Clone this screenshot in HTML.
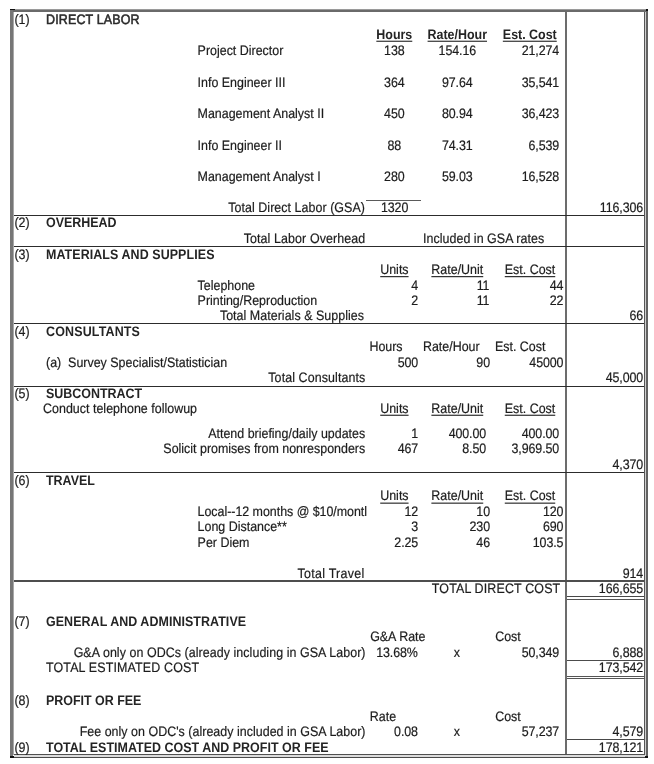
<!DOCTYPE html>
<html><head><meta charset="utf-8"><title>Cost Estimate</title>
<style>
html,body{margin:0;padding:0;background:#fff;}
body{width:654px;height:764px;position:relative;overflow:hidden;font-family:"Liberation Sans",sans-serif;font-size:12.45px;color:#1c1c1c;text-rendering:geometricPrecision;}
.tx{position:absolute;left:0;top:0;width:654px;height:764px;will-change:transform;transform:scaleY(1.1);transform-origin:0 0;}
.t{position:absolute;white-space:nowrap;-webkit-text-stroke:0.18px #1c1c1c;line-height:14px;height:14px;}
.b{font-weight:bold;color:#242424;-webkit-text-stroke:0;}
.s{-webkit-text-stroke:0.5px #2a2a2a;color:#2a2a2a;}
.u{text-decoration:underline;text-underline-offset:1.5px;text-decoration-thickness:1.2px;}
.l{position:absolute;}
</style></head><body>

<div class="l" style="left:10.3px;top:9.3px;width:637.1px;height:1.1px;background:#9a9a9a"></div>
<div class="l" style="left:10.3px;top:10.3px;width:637.1px;height:2.05px;background:#6a6a6a"></div>
<div class="l" style="left:10.3px;top:9.4px;width:2.4px;height:748.3px;background:#767676"></div>
<div class="l" style="left:12.7px;top:12.3px;width:1px;height:743px;background:#a8a8a8"></div>
<div class="l" style="left:644.1px;top:12.3px;width:1px;height:742.8px;background:#555"></div>
<div class="l" style="left:645.1px;top:12.3px;width:0.8px;height:744.2px;background:#cfcfcf"></div>
<div class="l" style="left:645.9px;top:9.4px;width:1.8px;height:748.3px;background:#626262"></div>
<div class="l" style="left:13.7px;top:754px;width:631.4px;height:1.4px;background:#505050"></div>
<div class="l" style="left:13.7px;top:755.4px;width:632.2px;height:1.2px;background:#dcdcdc"></div>
<div class="l" style="left:10.3px;top:756.6px;width:637.5px;height:1.2px;background:#4a4a4a"></div>
<div class="l" style="left:9.6px;top:8.5px;width:5px;height:1.7px;background:#111"></div>
<div class="l" style="left:645.9px;top:8.8px;width:2.1px;height:1.9px;background:#111"></div>
<div class="l" style="left:10px;top:756.2px;width:3.8px;height:1.6px;background:#111"></div>
<div class="l" style="left:644.5px;top:756.2px;width:3.7px;height:1.8px;background:#111"></div>
<div class="l" style="left:565.15px;top:12.3px;width:2px;height:741.7px;background:#6c6c6c"></div>
<div class="l" style="left:13.7px;top:214.65px;width:630.4px;height:1.35px;background:#2c2c2c"></div>
<div class="l" style="left:13.7px;top:245.7px;width:630.4px;height:1.4px;background:#2c2c2c"></div>
<div class="l" style="left:13.7px;top:322.6px;width:630.4px;height:1.4px;background:#2c2c2c"></div>
<div class="l" style="left:13.7px;top:386px;width:630.4px;height:1.4px;background:#2c2c2c"></div>
<div class="l" style="left:13.7px;top:471.7px;width:630.4px;height:1.4px;background:#2c2c2c"></div>
<div class="l" style="left:13.7px;top:580.3px;width:630.4px;height:1.6px;background:#4e4e4e"></div>
<div class="l" style="left:366.1px;top:199.5px;width:55.2px;height:1.4px;background:#5a5a5a"></div>
<div class="l" style="left:566.5px;top:595.8px;width:77.6px;height:1.3px;background:#484848"></div>
<div class="l" style="left:566.5px;top:598.6px;width:77.6px;height:1.1px;background:#555"></div>
<div class="l" style="left:566.5px;top:660.1px;width:77.6px;height:1.3px;background:#4c4c4c"></div>
<div class="l" style="left:566.5px;top:675.6px;width:77.6px;height:1.3px;background:#555"></div>
<div class="l" style="left:566.5px;top:677.5px;width:77.6px;height:1.3px;background:#555"></div>
<div class="l" style="left:566.5px;top:739px;width:77.6px;height:1.2px;background:#484848"></div>
<div class="tx">
<div class="t" style="left:14.4px;top:11.00px">(1)</div>
<div class="t s" style="left:46px;top:11.00px;letter-spacing:0.17px">DIRECT LABOR</div>
<div class="t b u" style="left:394.3px;top:24.00px;transform:translateX(-50%)">Hours</div>
<div class="t b u" style="left:457.3px;top:24.00px;transform:translateX(-50%)">Rate/Hour</div>
<div class="t b u" style="left:529.8px;top:24.00px;transform:translateX(-50%)">Est. Cost</div>
<div class="t" style="left:197.6px;top:39.00px">Project Director</div>
<div class="t" style="left:394.3px;top:39.00px;transform:translateX(-50%);letter-spacing:-0.1px">138</div>
<div class="t" style="left:457.3px;top:39.00px;transform:translateX(-50%);letter-spacing:-0.1px">154.16</div>
<div class="t" style="right:94.85px;top:39.00px;letter-spacing:-0.1px">21,274</div>
<div class="t" style="left:197.6px;top:68.00px">Info Engineer III</div>
<div class="t" style="left:394.3px;top:68.00px;transform:translateX(-50%);letter-spacing:-0.1px">364</div>
<div class="t" style="left:457.3px;top:68.00px;transform:translateX(-50%);letter-spacing:-0.1px">97.64</div>
<div class="t" style="right:94.85px;top:68.00px;letter-spacing:-0.1px">35,541</div>
<div class="t" style="left:197.6px;top:96.00px">Management Analyst II</div>
<div class="t" style="left:394.3px;top:96.00px;transform:translateX(-50%);letter-spacing:-0.1px">450</div>
<div class="t" style="left:457.3px;top:96.00px;transform:translateX(-50%);letter-spacing:-0.1px">80.94</div>
<div class="t" style="right:94.85px;top:96.00px;letter-spacing:-0.1px">36,423</div>
<div class="t" style="left:197.6px;top:125.00px">Info Engineer II</div>
<div class="t" style="left:394.3px;top:125.00px;transform:translateX(-50%);letter-spacing:-0.1px">88</div>
<div class="t" style="left:457.3px;top:125.00px;transform:translateX(-50%);letter-spacing:-0.1px">74.31</div>
<div class="t" style="right:94.85px;top:125.00px;letter-spacing:-0.1px">6,539</div>
<div class="t" style="right:289.05px;top:182.00px;letter-spacing:0.05px">Total Direct Labor (GSA)</div>
<div class="t" style="left:394.6px;top:182.00px;transform:translateX(-50%);letter-spacing:-0.1px">1320</div>
<div class="t" style="right:10.9px;top:182.00px;letter-spacing:-0.1px">116,306</div>
<div class="t" style="left:14.4px;top:195.00px">(2)</div>
<div class="t b" style="left:46px;top:195.00px">OVERHEAD</div>
<div class="t" style="right:288.7px;top:210.00px;letter-spacing:0.1px">Total Labor Overhead</div>
<div class="t" style="left:423px;top:210.00px;letter-spacing:0.04px">Included in GSA rates</div>
<div class="t" style="left:14.4px;top:224.00px">(3)</div>
<div class="t b" style="left:46px;top:224.00px;letter-spacing:0.09px">MATERIALS AND SUPPLIES</div>
<div class="t u" style="left:394.4px;top:238.00px;transform:translateX(-50%)">Units</div>
<div class="t u" style="left:457.3px;top:238.00px;transform:translateX(-50%)">Rate/Unit</div>
<div class="t u" style="left:530px;top:238.00px;transform:translateX(-50%)">Est. Cost</div>
<div class="t" style="left:197.6px;top:253.00px">Telephone</div>
<div class="t" style="right:235.85px;top:253.00px;letter-spacing:-0.1px">4</div>
<div class="t" style="right:164.6px;top:253.00px;letter-spacing:-0.1px">11</div>
<div class="t" style="right:90.6px;top:253.00px;letter-spacing:-0.1px">44</div>
<div class="t" style="left:197.6px;top:266.00px">Printing/Reproduction</div>
<div class="t" style="right:235.85px;top:266.00px;letter-spacing:-0.1px">2</div>
<div class="t" style="right:164.6px;top:266.00px;letter-spacing:-0.1px">11</div>
<div class="t" style="right:90.6px;top:266.00px;letter-spacing:-0.1px">22</div>
<div class="t" style="right:289.96px;top:280.00px;letter-spacing:0.04px">Total Materials &amp; Supplies</div>
<div class="t" style="right:10.9px;top:280.00px;letter-spacing:-0.1px">66</div>
<div class="t" style="left:14.4px;top:294.00px">(4)</div>
<div class="t b" style="left:46px;top:294.00px;letter-spacing:0.18px">CONSULTANTS</div>
<div class="t" style="left:386px;top:308.00px;transform:translateX(-50%)">Hours</div>
<div class="t" style="left:451.3px;top:308.00px;transform:translateX(-50%)">Rate/Hour</div>
<div class="t" style="left:520.2px;top:308.00px;transform:translateX(-50%)">Est. Cost</div>
<div class="t" style="left:46px;top:323.00px">(a)&nbsp; Survey Specialist/Statistician</div>
<div class="t" style="right:235.85px;top:323.00px;letter-spacing:-0.1px">500</div>
<div class="t" style="right:164px;top:323.00px;letter-spacing:-0.1px">90</div>
<div class="t" style="right:90.6px;top:323.00px;letter-spacing:-0.1px">45000</div>
<div class="t" style="right:288.6px;top:336.00px;letter-spacing:0.1px">Total Consultants</div>
<div class="t" style="right:10.9px;top:336.00px;letter-spacing:-0.1px">45,000</div>
<div class="t" style="left:14.4px;top:351.00px">(5)</div>
<div class="t b" style="left:46px;top:351.00px">SUBCONTRACT</div>
<div class="t" style="left:43px;top:364.00px;letter-spacing:0.02px">Conduct telephone followup</div>
<div class="t u" style="left:394.4px;top:364.00px;transform:translateX(-50%)">Units</div>
<div class="t u" style="left:457.3px;top:364.00px;transform:translateX(-50%)">Rate/Unit</div>
<div class="t u" style="left:530px;top:364.00px;transform:translateX(-50%)">Est. Cost</div>
<div class="t" style="right:288.8px;top:387.00px">Attend briefing/daily updates</div>
<div class="t" style="right:235.85px;top:387.00px;letter-spacing:-0.1px">1</div>
<div class="t" style="right:167.9px;top:387.00px;letter-spacing:-0.1px">400.00</div>
<div class="t" style="right:94.85px;top:387.00px;letter-spacing:-0.1px">400.00</div>
<div class="t" style="right:288.8px;top:401.00px">Solicit promises from nonresponders</div>
<div class="t" style="right:235.85px;top:401.00px;letter-spacing:-0.1px">467</div>
<div class="t" style="right:167.9px;top:401.00px;letter-spacing:-0.1px">8.50</div>
<div class="t" style="right:94.85px;top:401.00px;letter-spacing:-0.1px">3,969.50</div>
<div class="t" style="right:10.9px;top:415.00px;letter-spacing:-0.1px">4,370</div>
<div class="t" style="left:14.4px;top:430.00px">(6)</div>
<div class="t b" style="left:46px;top:430.00px">TRAVEL</div>
<div class="t" style="left:197.6px;top:458.00px;letter-spacing:-0.03px">Local--12 months @ $10/montl</div>
<div class="t" style="right:235.85px;top:458.00px;letter-spacing:-0.1px">12</div>
<div class="t" style="right:164px;top:458.00px;letter-spacing:-0.1px">10</div>
<div class="t" style="right:90.6px;top:458.00px;letter-spacing:-0.1px">120</div>
<div class="t" style="left:197.6px;top:472.00px">Long Distance**</div>
<div class="t" style="right:235.85px;top:472.00px;letter-spacing:-0.1px">3</div>
<div class="t" style="right:164px;top:472.00px;letter-spacing:-0.1px">230</div>
<div class="t" style="right:90.6px;top:472.00px;letter-spacing:-0.1px">690</div>
<div class="t" style="left:197.6px;top:486.00px">Per Diem</div>
<div class="t" style="right:235.85px;top:486.00px;letter-spacing:-0.1px">2.25</div>
<div class="t" style="right:164px;top:486.00px;letter-spacing:-0.1px">46</div>
<div class="t" style="right:90.6px;top:486.00px;letter-spacing:-0.1px">103.5</div>
<div class="t" style="right:289.52px;top:514.00px;letter-spacing:0.28px">Total Travel</div>
<div class="t" style="right:10.9px;top:514.00px;letter-spacing:-0.1px">914</div>
<div class="t" style="right:93.65px;top:528.00px;letter-spacing:0.15px">TOTAL DIRECT COST</div>
<div class="t" style="right:10.9px;top:528.00px;letter-spacing:-0.1px">166,655</div>
<div class="t" style="left:14.4px;top:558.00px">(7)</div>
<div class="t b" style="left:46px;top:558.00px;letter-spacing:0.07px">GENERAL AND ADMINISTRATIVE</div>
<div class="t" style="left:397.8px;top:572.00px;transform:translateX(-50%)">G&amp;A Rate</div>
<div class="t" style="left:508px;top:572.00px;transform:translateX(-50%)">Cost</div>
<div class="t" style="right:288.44px;top:586.00px;letter-spacing:0.06px">G&amp;A only on ODCs (already including in GSA Labor)</div>
<div class="t" style="left:397px;top:586.00px;transform:translateX(-50%);letter-spacing:-0.1px">13.68%</div>
<div class="t" style="left:456.8px;top:586.00px;transform:translateX(-50%)">x</div>
<div class="t" style="right:94.85px;top:586.00px;letter-spacing:-0.1px">50,349</div>
<div class="t" style="right:10.9px;top:586.00px;letter-spacing:-0.1px">6,888</div>
<div class="t" style="left:46px;top:600.00px;letter-spacing:0.15px">TOTAL ESTIMATED COST</div>
<div class="t" style="right:10.9px;top:600.00px;letter-spacing:-0.1px">173,542</div>
<div class="t" style="left:14.4px;top:630.00px">(8)</div>
<div class="t b" style="left:46px;top:630.00px">PROFIT OR FEE</div>
<div class="t" style="left:383px;top:644.00px;transform:translateX(-50%)">Rate</div>
<div class="t" style="left:508px;top:644.00px;transform:translateX(-50%)">Cost</div>
<div class="t" style="right:288.47px;top:658.00px;letter-spacing:0.03px">Fee only on ODC's (already included in GSA Labor)</div>
<div class="t" style="left:406px;top:658.00px;transform:translateX(-50%);letter-spacing:-0.1px">0.08</div>
<div class="t" style="left:456.8px;top:658.00px;transform:translateX(-50%)">x</div>
<div class="t" style="right:94.85px;top:658.00px;letter-spacing:-0.1px">57,237</div>
<div class="t" style="right:10.9px;top:658.00px;letter-spacing:-0.1px">4,579</div>
<div class="t" style="left:14.4px;top:673.00px">(9)</div>
<div class="t b" style="left:46px;top:673.00px;letter-spacing:0.035px">TOTAL ESTIMATED COST AND PROFIT OR FEE</div>
<div class="t" style="right:10.9px;top:673.00px;letter-spacing:-0.1px">178,121</div>
</div>
<div class="tx" style="top:1px">
<div class="t" style="left:197.6px;top:153.00px">Management Analyst I</div>
<div class="t" style="left:394.3px;top:153.00px;transform:translateX(-50%);letter-spacing:-0.1px">280</div>
<div class="t" style="left:457.3px;top:153.00px;transform:translateX(-50%);letter-spacing:-0.1px">59.03</div>
<div class="t" style="right:94.85px;top:153.00px;letter-spacing:-0.1px">16,528</div>
<div class="t u" style="left:394.4px;top:443.00px;transform:translateX(-50%)">Units</div>
<div class="t u" style="left:457.3px;top:443.00px;transform:translateX(-50%)">Rate/Unit</div>
<div class="t u" style="left:530px;top:443.00px;transform:translateX(-50%)">Est. Cost</div>
</div>
</body></html>
